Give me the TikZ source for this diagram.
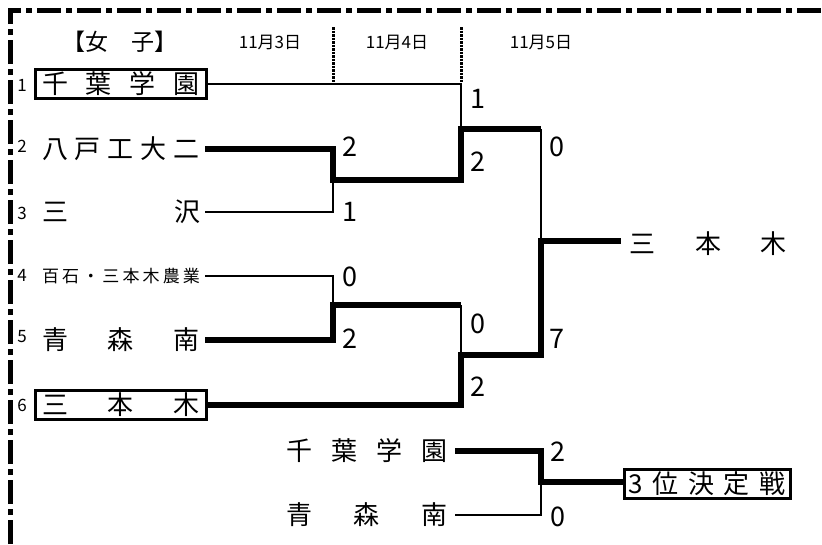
\documentclass[tikz,border=0pt]{standalone}
\usepackage{fontspec}
\setmainfont{Noto Sans CJK JP}
\usetikzlibrary{positioning}
\newcommand\fs[1]{\fontsize{#1}{#1}\selectfont}
\newcommand\spread[2][158pt]{\makebox[#1][s]{#2}}

\begin{document}
\begin{tikzpicture}[x=1pt,y=-1pt,
	win/.style={line width=6pt},
	lose/.style={line width=2.5pt},
	team/.style={font=\fs{26}, inner sep=0pt, inner xsep=5pt, minimum height=26pt},
	boxed/.style={team, draw, line width=3pt, inner xsep=6.5pt, minimum height=29pt},
	seed/.style={font=\fs{17}, inner sep=0pt},
	score/.style={font=\fs{27}, inner sep=0pt, anchor=west},
	day/.style={font=\fs{17}, inner sep=0pt},
	sep/.style={line width=3pt, dash pattern=on 2.5pt off 1pt},
	frame/.style={line width=5pt, dash pattern=on 24pt off 5pt on 6pt off 5pt}]
			%%%%% START %%%%%
			\useasboundingbox (0,0) rectangle (822,544);
			\draw[frame] (10.5,544) -- (10.5,10.5) -- (822,10.5);
			
			\node[font=\fs{23}, inner sep=0pt] (girls) at (120,42) {【女　子】};
			\node[day] (d1) at (270,42) {11月3日};
			\node[day] (d2) at (397,42) {11月4日};
			\node[day] (d3) at (541,42) {11月5日};
			\draw[sep] (333,27) -- (333,83);
			\draw[sep] (461,27) -- (461,83);
			
			\foreach \n/\y in {1/85,2/146,3/213,4/275,5/337,6/405}
				\node[seed] (n\n) at (22,\y) {\n};
			
			\node[boxed] (t1) at (121,84) {\spread{千\hfill 葉\hfill 学\hfill 園}};
			\node[team] (t2) at (121,149) {\spread{八\hfill 戸\hfill 工\hfill 大\hfill 二}};
			\node[team] (t3) at (121,212) {\spread{三\hfill 沢}};
			\node[team, font=\fs{17}] (t4) at (121,276) {\spread{百\hfil 石\hfil ・\hfil 三\hfil 本\hfil 木\hfil 農\hfil 業}};
			\node[team] (t5) at (121,340) {\spread{青\hfill 森\hfill 南}};
			\node[boxed] (t6) at (121,405) {\spread{三\hfill 本\hfill 木}};
			
			\node[team, inner xsep=8pt] (champ) at (708,244) {\spread[157pt]{三\hfill 本\hfill 木}};
			
			\node[team, inner xsep=7pt] (p1) at (367,451) {\spread[162pt]{千\hfill 葉\hfill 学\hfill 園}};
			\node[team, inner xsep=7pt] (p2) at (367,515) {\spread[162pt]{青\hfill 森\hfill 南}};
			\node[boxed, inner xsep=4.5pt] (third) at (707,484) {\spread[157pt]{3\hfill 位\hfill 決\hfill 定\hfill 戦}};
			
			\coordinate (m1) at (333,180);
			\coordinate (m2) at (333,305);
			\coordinate (s1) at (461,129);
			\coordinate (s2) at (461,355);
			\coordinate (f) at (541,241);
			\coordinate (m3) at (541,482);
			
			% first round
			\draw[win] (t2.east) -| (m1) -| (s1) -- (s1 -| f);
			\draw[lose] (t3.east) -| (m1);
			\draw[lose] (t4.east) -| (m2);
			\draw[win] (t5.east) -| (m2) -- (m2 -| s2);
			
			% semi final and final
			\draw[lose] (t1.east) -| (s1);
			\draw[lose] (m2 -| s2) -- (s2);
			\draw[lose] (s1 -| f) -- (f);
			\draw[win] (t6.east) -| (s2) -| (f) -- (f -| champ.west);
			
			% third place
			\draw[win] (p1.east) -| (m3) -- (m3 -| third.west);
			\draw[lose] (p2.east) -| (m3);
			
			\node[score] (sa) at (342,147) {2};
			\node[score] (sb) at (342,212) {1};
			\node[score] (sc) at (342,277) {0};
			\node[score] (sd) at (342,339) {2};
			\node[score] (se) at (470,99) {1};
			\node[score] (sf) at (470,162) {2};
			\node[score] (sg) at (470,324) {0};
			\node[score] (sh) at (470,387) {2};
			\node[score] (si) at (549,147) {0};
			\node[score] (sj) at (549,339) {7};
			\node[score] (sk) at (550,452) {2};
			\node[score] (sl) at (550,517) {0};
			%%%%% END %%%%%
\end{tikzpicture}
\end{document}
